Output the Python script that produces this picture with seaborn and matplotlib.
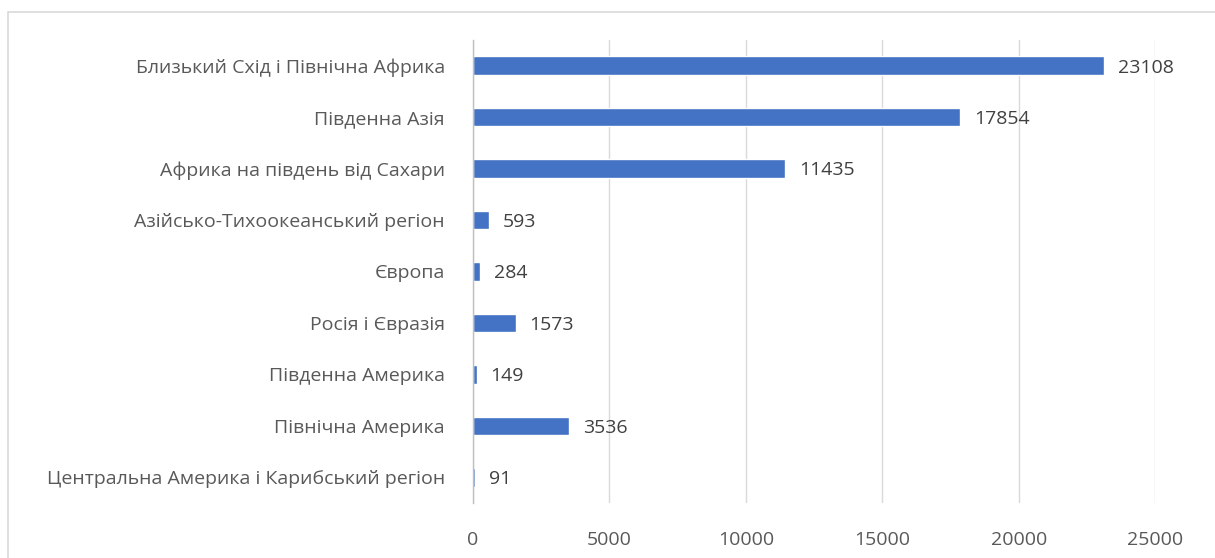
import matplotlib
matplotlib.use('Agg')
import matplotlib.pyplot as plt
import seaborn as sns
import pandas as pd
from matplotlib.patches import Rectangle

# data
regions = [
    'Близький Схід і Північна Африка',
    'Південна Азія',
    'Африка на південь від Сахари',
    'Азійсько-Тихоокеанський регіон',
    'Європа',
    'Росія і Євразія',
    'Південна Америка',
    'Північна Америка',
    'Центральна Америка і Карибський регіон',
]
values = [23108, 17854, 11435, 593, 284, 1573, 149, 3536, 91]
x_ticks = [0, 5000, 10000, 15000, 20000, 25000]

df = pd.DataFrame({'region': regions, 'value': values})

sns.set_theme(style='white')
plt.rcParams['font.family'] = ['Open Sans', 'DejaVu Sans']

fig = plt.figure(figsize=(12.15, 5.58), dpi=100)
ax = fig.add_axes([0.389, 0.0986, 0.562, 0.830])

text_col = '#595959'
fs = 14
sns.barplot(data=df, x='value', y='region', orient='h', color='#4472C4',
            width=0.36, saturation=1, ax=ax)

for c in ax.containers:
    txts = ax.bar_label(c, labels=[str(v) for v in values], padding=10,
                        fontsize=fs, color='#404040')
    for t in txts:
        t.set_verticalalignment('center_baseline')

ax.set_xlim(0, 25000)
ax.set_xticks(x_ticks)
ax.set_xticklabels([str(t) for t in x_ticks], fontsize=fs, color=text_col)
ax.tick_params(axis='y', labelsize=fs, labelcolor=text_col, length=0, pad=20)
ax.tick_params(axis='x', length=0, pad=20)
ax.set_xlabel('')
ax.set_ylabel('')
ax.grid(axis='x', color='#d9d9d9', linewidth=1)
ax.set_axisbelow(True)
for side in ['top', 'right', 'bottom']:
    ax.spines[side].set_visible(False)
ax.spines['left'].set_color('#bfbfbf')
ax.spines['left'].set_linewidth(1)

# chart border like the spreadsheet chart area
fig.patches.append(Rectangle((8 / 1215, -0.05), 1.1, 0.05 + 1 - 12 / 558,
                             transform=fig.transFigure, fill=False,
                             edgecolor='#d9d9d9', linewidth=1.2))

fig.savefig('out.png', dpi=100)
